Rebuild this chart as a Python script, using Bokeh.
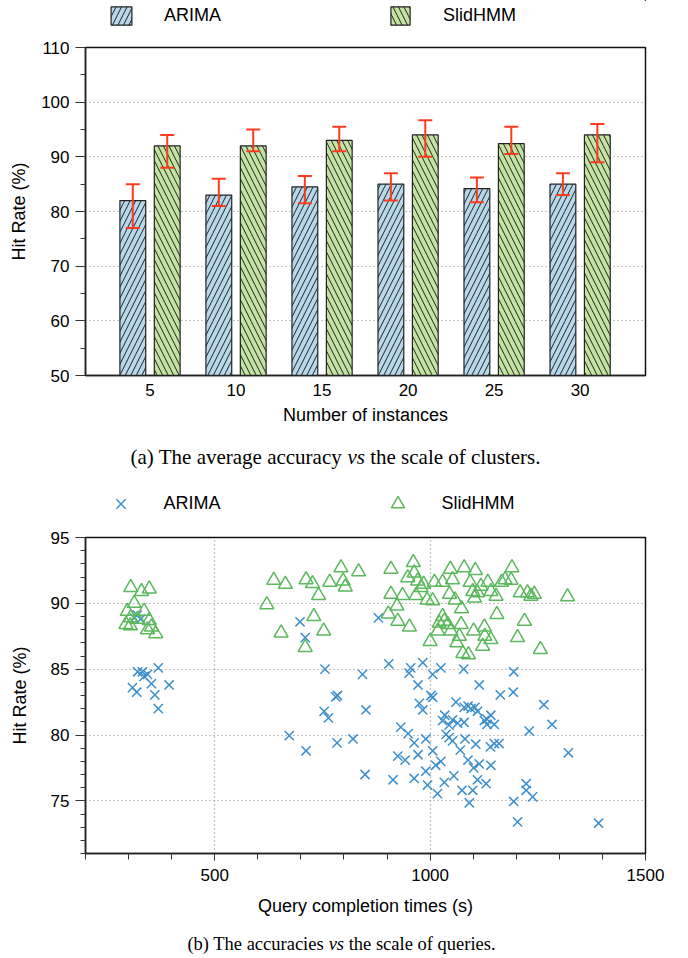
from bokeh.plotting import figure
from bokeh.models import (Range1d, FixedTicker, SingleIntervalTicker, Legend, LegendItem,
                          Label, Whisker, TeeHead, ColumnDataSource)
from bokeh.layouts import column
from bokeh.embed import file_html
from bokeh.resources import INLINE

# ---------------- data: (a) bar chart ----------------
instances = ["5", "10", "15", "20", "25", "30"]
arima_mean = [82.0, 83.0, 84.5, 85.0, 84.2, 85.0]
arima_low = [77.0, 81.0, 81.5, 82.0, 81.7, 83.0]
arima_high = [85.0, 86.0, 86.5, 87.0, 86.2, 87.0]
slid_mean = [92.0, 92.0, 93.0, 94.0, 92.4, 94.0]
slid_low = [88.0, 91.0, 91.0, 90.0, 90.5, 89.0]
slid_high = [94.0, 95.0, 95.5, 96.7, 95.5, 96.0]

# ---------------- data: (b) scatter ----------------
arima_x = [321, 332, 344, 369, 336, 353, 309, 319, 394, 361, 369, 313, 328, 320,
           698, 710, 756, 843, 904, 880,
           955, 983, 951, 1006, 1025, 1078, 1194,
           781, 785, 754, 764, 851, 673, 712, 784, 821, 849, 914, 925, 932,
           972, 1114, 1002, 1006, 975, 983, 1060, 1088, 1095, 1104, 1110, 1079, 1163, 1193, 1264,
           1034, 1029, 1052, 1044, 1064, 1079, 1126, 1132, 1141, 1149, 1132,
           949, 963, 990, 1037, 1044, 1052, 1081, 1106, 1070, 1006, 1140, 1149, 1160, 1230, 1283, 1321,
           942, 972, 1025, 1013, 1088, 1101, 1114, 1141, 990, 963, 994, 1017, 1033, 1055, 1074, 1099,
           1110, 1130, 1091, 1223, 1223, 1238, 1194, 1203, 1391]
arima_y = [84.8, 84.8, 84.6, 85.1, 84.45, 83.9, 83.6, 83.25, 83.8, 83.05, 82.0, 88.9, 88.8, 89.1,
           88.6, 87.4, 85.0, 84.6, 85.4, 88.9,
           85.1, 85.5, 84.7, 84.6, 85.1, 85.0, 84.8,
           82.9, 83.0, 81.8, 81.3, 81.9, 79.95, 78.8, 79.4, 79.7, 77.0, 76.6, 78.4, 80.6,
           83.8, 83.8, 83.0, 82.85, 82.4, 81.9, 82.5, 82.2, 82.0, 82.1, 81.8, 82.1, 83.05, 83.25, 82.3,
           81.5, 81.1, 81.15, 80.75, 80.9, 80.95, 81.1, 81.2, 81.5, 80.8, 80.8,
           80.1, 79.4, 79.7, 80.05, 79.8, 79.55, 79.7, 79.3, 78.85, 78.8, 79.1, 79.35, 79.35, 80.3, 80.8, 78.65,
           78.1, 78.5, 78.0, 77.7, 78.1, 77.5, 77.8, 77.7, 77.25, 76.7, 76.2, 75.55, 76.4, 76.9, 75.8, 75.8,
           76.6, 76.3, 74.85, 76.3, 75.8, 75.3, 74.95, 73.4, 73.3]

slid_x = [305, 330, 348, 313, 297, 336, 305, 321, 348, 294, 304, 344, 363, 353,
          637, 664, 621, 712, 727, 741, 767, 793, 798, 803, 834, 730, 654, 753, 710, 909, 909, 903, 925,
          923, 936, 952, 961, 963, 948, 971, 979, 967, 985, 993, 1006, 1010, 1029, 1047, 1052, 1045, 1058,
          1073, 1079, 1105, 1093, 1099, 1110, 1118, 1134, 1141, 1153, 1103, 1166, 1174, 1188, 1190, 1209,
          1226, 1234, 1242, 1319, 1155, 1219, 1203, 1256,
          1029, 1021, 1041, 1072, 1018, 1048, 1068, 1062, 1000, 1101, 1126, 1127, 1141, 1122, 1076, 1089, 1033]
slid_y = [91.2, 90.9, 91.1, 90.0, 89.4, 89.4, 88.9, 88.8, 88.7, 88.4, 88.3, 88.0, 87.7, 88.2,
          91.75, 91.45, 89.9, 91.8, 91.5, 90.6, 91.6, 92.7, 91.7, 91.25, 92.4, 89.0, 87.75, 87.9, 86.65,
          92.6, 90.7, 89.2, 88.65,
          89.8, 90.6, 88.2, 93.1, 92.3, 91.95, 91.7, 91.2, 90.6, 91.45, 90.25, 90.2, 91.6, 91.6, 92.6, 91.8,
          90.7, 90.25, 89.6, 92.7, 92.5, 91.6, 90.9, 90.8, 91.3, 91.6, 90.9, 90.55, 90.4, 91.6, 91.8, 91.75,
          92.7, 90.8, 90.8, 90.55, 90.7, 90.5, 89.15, 88.65, 87.4, 86.5,
          89.0, 88.5, 88.4, 88.4, 87.9, 87.9, 87.5, 87.0, 87.1, 87.9, 88.2, 87.5, 87.25, 86.75, 86.2, 86.1, 88.65]

SANS = "Liberation Sans"
SERIF = "Liberation Serif"
BLUE_FILL = "#b6d8ea"
GREEN_FILL = "#c2e3a1"
ERR = "#ff3b1f"
BLUE = "#3d8fcc"
GREEN = "#5cb85c"
TICK_FS = "17px"
LAB_FS = "18px"
W = 688
FRAME_LEFT = 85  # all stacked plots share this left border (column aligns frames)

TIMES_W = {' ': 250, '(': 333, ')': 333, '.': 250, 'T': 611, 'a': 444, 'b': 500, 'c': 444, 'e': 444,
           'f': 333, 'g': 500, 'h': 500, 'i': 278, 'l': 278, 'o': 500, 'q': 500, 'r': 333, 's': 389,
           't': 278, 'u': 500, 'v': 500, 'y': 500}
TIMES_I = {'v': 444, 's': 389}

BAR_A = dict(fill_color=BLUE_FILL, line_color="#222222", line_width=1.2, hatch_pattern="/",
             hatch_color="#222222", hatch_scale=11, hatch_weight=1)
BAR_S = dict(fill_color=GREEN_FILL, line_color="#222222", line_width=1.2, hatch_pattern="\\",
             hatch_color="#222222", hatch_scale=11, hatch_weight=1)
MK_A = dict(marker="x", size=13, line_color=BLUE, line_width=1.5)
MK_S = dict(marker="triangle", size=14, line_color=GREEN, fill_color=None, line_width=1.5)


def tw(s, size, italic=False):
    tab = TIMES_I if italic else TIMES_W
    return sum(tab.get(c, TIMES_W.get(c, 500)) for c in s) * size / 1000.0


def blank(h):
    # helper strip (legend / caption); its data range is far away so no glyph is visible
    f = figure(width=W, height=h, x_range=Range1d(-10, -9), y_range=Range1d(-10, -9),
               output_backend="svg", toolbar_location=None, min_border=0,
               min_border_left=FRAME_LEFT, min_border_right=43,
               x_axis_type=None, y_axis_type=None)
    f.outline_line_color = None
    return f


def caption_fig(h, parts, cx_page, y_from_top, size):
    f = blank(h)
    sp = 250 * size / 1000.0
    total = sum(tw(t, size, it) for t, it in parts) + sp * (len(parts) - 1)
    x = cx_page - total / 2 - FRAME_LEFT
    for t, it in parts:
        f.add_layout(Label(x=x, y=h - y_from_top, x_units="screen", y_units="screen", text=t,
                           text_font=SERIF, text_font_size=f"{size}px",
                           text_font_style="italic" if it else "normal",
                           text_baseline="middle", text_align="left", text_color="black"))
        x += tw(t, size, it) + sp
    return f


leg_kw = dict(orientation="horizontal", padding=0, margin=0, border_line_color=None,
              background_fill_alpha=0, label_text_font=SANS, label_text_font_size="18px",
              label_text_color="black")


def style_axis(ax):
    ax.major_label_text_font = SANS
    ax.major_label_text_font_size = TICK_FS
    ax.major_label_text_color = "black"
    ax.axis_label_text_font = SANS
    ax.axis_label_text_font_size = LAB_FS
    ax.axis_label_text_font_style = "normal"
    ax.axis_label_text_color = "black"
    ax.axis_line_color = "#222222"
    ax.axis_line_width = 1.5
    ax.major_tick_line_color = "#333333"
    ax.minor_tick_line_color = "#333333"
    ax.major_tick_in = 0
    ax.minor_tick_in = 0


pos = list(range(1, len(instances) + 1))
src_a = ColumnDataSource(dict(x=[v - 0.2 for v in pos], top=arima_mean, lower=arima_low, upper=arima_high))
src_s = ColumnDataSource(dict(x=[v + 0.2 for v in pos], top=slid_mean, lower=slid_low, upper=slid_high))

# ================= legend row (a) =================
legA = blank(35)
da = legA.vbar(x="x", top="top", bottom=50, width=0.3, source=src_a, **BAR_A)
ds = legA.vbar(x="x", top="top", bottom=50, width=0.3, source=src_s, **BAR_S)
legA.add_layout(Legend(items=[LegendItem(label="ARIMA", renderers=[da])], location=(108 - FRAME_LEFT, 8),
                       glyph_width=26, glyph_height=23, label_standoff=30, **leg_kw))
legA.add_layout(Legend(items=[LegendItem(label="SlidHMM", renderers=[ds])], location=(388 - FRAME_LEFT, 8),
                       glyph_width=24, glyph_height=23, label_standoff=31, **leg_kw))

# ================= (a) =================
p1 = figure(width=W, height=405, x_range=Range1d(0.25, 6.76), y_range=Range1d(50, 110),
            output_backend="svg", toolbar_location=None,
            min_border_left=FRAME_LEFT, min_border_right=43, min_border_top=12, min_border_bottom=65)
p1.outline_line_color = "#111111"
p1.outline_line_width = 1.5

p1.vbar(x="x", top="top", bottom=50, width=0.3, source=src_a, **BAR_A)
p1.vbar(x="x", top="top", bottom=50, width=0.3, source=src_s, **BAR_S)
for src in (src_a, src_s):
    p1.add_layout(Whisker(source=src, base="x", upper="upper", lower="lower", level="overlay",
                          line_color=ERR, line_width=2,
                          upper_head=TeeHead(size=14, line_color=ERR, line_width=2),
                          lower_head=TeeHead(size=14, line_color=ERR, line_width=2)))

p1.xaxis.ticker = FixedTicker(ticks=pos)
p1.xaxis.major_label_overrides = {v: lab for v, lab in zip(pos, instances)}
p1.xaxis.axis_label = "Number of instances"
p1.xaxis.major_tick_out = 0
p1.xaxis.minor_tick_out = 0
p1.xaxis.major_label_standoff = 8
p1.xaxis.axis_label_standoff = 6
yt1 = SingleIntervalTicker(interval=10, num_minor_ticks=2)
p1.yaxis.ticker = yt1
p1.yaxis.axis_label = "Hit Rate (%)"
p1.yaxis.major_tick_out = 10
p1.yaxis.minor_tick_out = 5
p1.yaxis.major_label_standoff = 6
p1.yaxis.axis_label_standoff = 9
style_axis(p1.xaxis[0])
style_axis(p1.yaxis[0])
p1.xgrid.visible = False
p1.ygrid.ticker = yt1
p1.ygrid.grid_line_color = "#888888"
p1.ygrid.grid_line_dash = "1 3"
p1.ygrid.grid_line_width = 1.2

capA = caption_fig(40, [("(a) The average accuracy", False), ("vs", True),
                        ("the scale of clusters.", False)], 335, 16, 21)

# ================= legend row (b) =================
legB = blank(45)
dx = legB.scatter(arima_x, arima_y, **MK_A)
dt = legB.scatter(slid_x, slid_y, **MK_S)
legB.add_layout(Legend(items=[LegendItem(label="ARIMA", renderers=[dx])], location=(103.5 - FRAME_LEFT, 5.5),
                       glyph_width=33, glyph_height=33, label_standoff=27, **leg_kw))
legB.add_layout(Legend(items=[LegendItem(label="SlidHMM", renderers=[dt])], location=(380.5 - FRAME_LEFT, 5.5),
                       glyph_width=33, glyph_height=33, label_standoff=28, **leg_kw))

# ================= (b) =================
p2 = figure(width=W, height=400, x_range=Range1d(200, 1500), y_range=Range1d(71, 95),
            output_backend="svg", toolbar_location=None,
            min_border_left=FRAME_LEFT, min_border_right=43, min_border_top=12, min_border_bottom=72)
p2.outline_line_color = "#111111"
p2.outline_line_width = 1.5

p2.scatter(arima_x, arima_y, **MK_A)
p2.scatter(slid_x, slid_y, **MK_S)

xt2 = SingleIntervalTicker(interval=500, num_minor_ticks=5)
yt2 = SingleIntervalTicker(interval=5, num_minor_ticks=5)
p2.xaxis.ticker = xt2
p2.yaxis.ticker = yt2
p2.xgrid.ticker = xt2
p2.ygrid.ticker = yt2
p2.xaxis.axis_label = "Query completion times (s)"
p2.yaxis.axis_label = "Hit Rate (%)"
p2.xaxis.major_tick_out = 7
p2.xaxis.minor_tick_out = 6
p2.xaxis.major_label_standoff = 8
p2.xaxis.axis_label_standoff = 12
p2.yaxis.major_tick_out = 10
p2.yaxis.minor_tick_out = 5
p2.yaxis.major_label_standoff = 6
p2.yaxis.axis_label_standoff = 18
style_axis(p2.xaxis[0])
style_axis(p2.yaxis[0])
for g in (p2.xgrid, p2.ygrid):
    g.grid_line_color = "#888888"
    g.grid_line_dash = "1 3"
    g.grid_line_width = 1.2

capB = caption_fig(33, [("(b) The accuracies", False), ("vs", True),
                        ("the scale of queries.", False)], 341, 18, 18.5)

layout = column(legA, p1, capA, legB, p2, capB, spacing=0)
open("out.html", "w").write(file_html(layout, INLINE))
